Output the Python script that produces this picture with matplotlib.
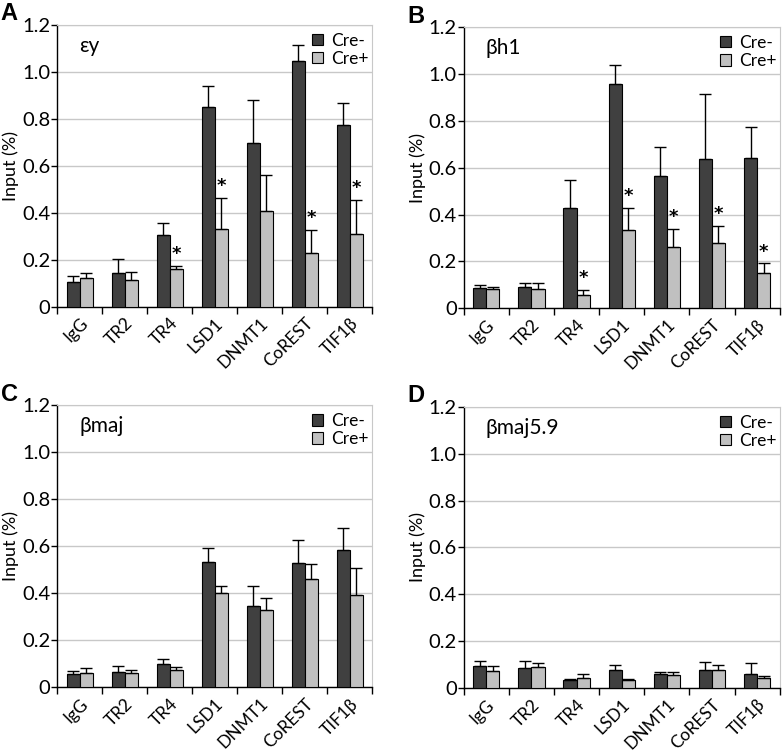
import numpy as np
import matplotlib.pyplot as plt

# categories shared by all four panels
targets = ['IgG', 'TR2', 'TR4', 'LSD1', 'DNMT1', 'CoREST', 'TIF1β']

# panel A: εy
a_minus = [0.107, 0.145, 0.304, 0.849, 0.699, 1.048, 0.774]
a_minus_top = [0.131, 0.202, 0.355, 0.938, 0.878, 1.114, 0.869]
a_plus = [0.124, 0.114, 0.159, 0.330, 0.408, 0.229, 0.308]
a_plus_top = [0.142, 0.148, 0.175, 0.464, 0.561, 0.327, 0.455]
a_stars = [False, False, True, True, False, True, True]

# panel B: βh1
b_minus = [0.085, 0.092, 0.426, 0.956, 0.565, 0.635, 0.642]
b_minus_top = [0.098, 0.109, 0.547, 1.040, 0.689, 0.913, 0.775]
b_plus = [0.081, 0.084, 0.055, 0.334, 0.263, 0.280, 0.152]
b_plus_top = [0.092, 0.109, 0.077, 0.429, 0.339, 0.351, 0.192]
b_stars = [False, False, True, True, True, True, True]

# panel C: βmaj
c_minus = [0.058, 0.067, 0.098, 0.534, 0.348, 0.527, 0.584]
c_minus_top = [0.068, 0.092, 0.121, 0.591, 0.433, 0.625, 0.677]
c_plus = [0.062, 0.060, 0.075, 0.402, 0.327, 0.462, 0.391]
c_plus_top = [0.084, 0.075, 0.087, 0.430, 0.382, 0.523, 0.506]
c_stars = [False] * 7

# panel D: βmaj5.9
d_minus = [0.093, 0.085, 0.033, 0.077, 0.058, 0.078, 0.060]
d_minus_top = [0.114, 0.114, 0.040, 0.100, 0.068, 0.110, 0.107]
d_plus = [0.073, 0.090, 0.044, 0.033, 0.056, 0.078, 0.043]
d_plus_top = [0.094, 0.107, 0.060, 0.038, 0.068, 0.100, 0.053]
d_stars = [False] * 7

panels = [
    ('A', 'εy', a_minus, a_minus_top, a_plus, a_plus_top, a_stars, [0.073, 0.592, 0.403, 0.375]),
    ('B', 'βh1', b_minus, b_minus_top, b_plus, b_plus_top, b_stars, [0.593, 0.590, 0.404, 0.374]),
    ('C', 'βmaj', c_minus, c_minus_top, c_plus, c_plus_top, c_stars, [0.073, 0.086, 0.403, 0.375]),
    ('D', 'βmaj5.9', d_minus, d_minus_top, d_plus, d_plus_top, d_stars, [0.593, 0.085, 0.404, 0.374]),
]

plt.rcParams['font.family'] = ['Lato', 'DejaVu Sans']

fig = plt.figure(figsize=(7.82, 7.52), dpi=100)

dark = '#404040'
light = '#c0c0c0'
w = 0.29
x = np.arange(len(targets))

for letter, gene, mn, mn_top, pl, pl_top, stars, rect in panels:
    ax = fig.add_axes(rect)
    mn = np.array(mn)
    pl = np.array(pl)
    err_mn = np.array(mn_top) - mn
    err_pl = np.array(pl_top) - pl
    ax.bar(x - w / 2, mn, w, color=dark, edgecolor='black', linewidth=0.8,
           label='Cre-', zorder=3,
           yerr=[np.zeros_like(err_mn), err_mn],
           error_kw=dict(ecolor='black', elinewidth=1, capsize=4, capthick=1, zorder=4))
    ax.bar(x + w / 2, pl, w, color=light, edgecolor='black', linewidth=0.8,
           label='Cre+', zorder=3,
           yerr=[np.zeros_like(err_pl), err_pl],
           error_kw=dict(ecolor='black', elinewidth=1, capsize=4, capthick=1, zorder=4))
    for i, s in enumerate(stars):
        if s:
            ax.text(x[i] + w / 2, pl_top[i] + 0.012, '*', ha='center', va='bottom',
                    fontsize=13, fontweight='bold', family='DejaVu Sans')

    ax.set_xlim(-0.5, len(targets) - 0.5)
    ax.set_ylim(0, 1.2)
    ax.set_yticks(np.arange(0, 1.21, 0.2))
    ax.set_yticklabels(['0', '0.2', '0.4', '0.6', '0.8', '1.0', '1.2'], fontsize=14.5)
    ax.yaxis.grid(True, color='#c8c8c8', linewidth=1, zorder=0)
    ax.set_axisbelow(True)

    # category boundaries as ticks, labels at centres
    ax.set_xticks(np.arange(-0.5, len(targets), 1.0))
    ax.set_xticklabels([])
    ax.set_xticks(x, minor=True)
    ax.set_xticklabels(targets, minor=True, rotation=45, ha='right',
                       rotation_mode='anchor', fontsize=12.5)
    ax.tick_params(axis='x', which='minor', length=0, pad=6)
    ax.tick_params(axis='x', which='major', length=5, width=1, direction='out')
    ax.tick_params(axis='y', length=4, width=1, direction='out', pad=1)

    ax.spines['top'].set_color('#c8c8c8')
    ax.spines['right'].set_color('#c8c8c8')
    ax.spines['left'].set_linewidth(1)
    ax.spines['bottom'].set_linewidth(1)

    ax.set_ylabel('Input (%)', fontsize=13, labelpad=2)
    ax.text(0.07, 0.925, gene, transform=ax.transAxes, fontsize=15, va='center')
    ax.legend(loc='upper right', bbox_to_anchor=(1.0, 0.985), frameon=False,
              fontsize=12.5, handlelength=0.65, handleheight=0.65,
              handletextpad=0.45, labelspacing=0.12, borderaxespad=0,
              borderpad=0.2)

    fx = rect[0] - 0.072
    fy = rect[1] + rect[3] + 0.03
    fig.text(fx, fy, letter, fontsize=17, fontweight='bold',
             family='Liberation Sans', va='top', ha='left')

fig.savefig('out.png', dpi=100)
